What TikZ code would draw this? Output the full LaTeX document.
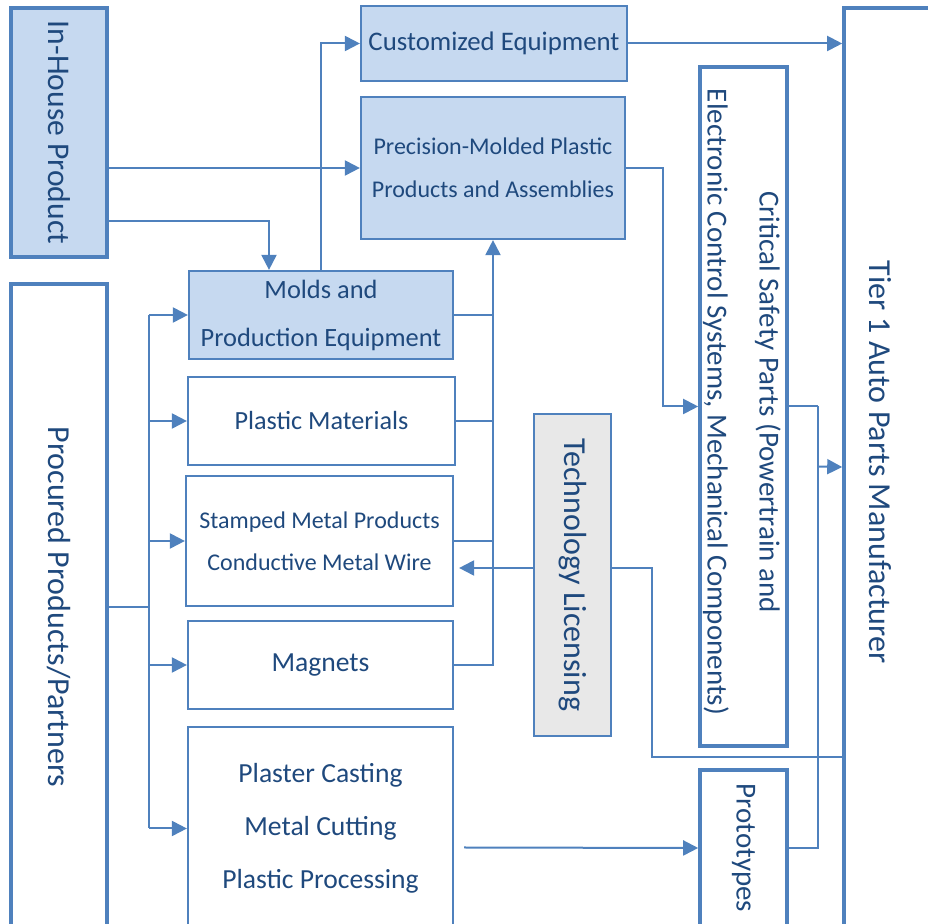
\documentclass[tikz,border=0pt]{standalone}
\usepackage{fontspec}
\setmainfont{Carlito}
\usetikzlibrary{arrows.meta,calc}

\definecolor{edgeblue}{HTML}{4F81BD}
\definecolor{boxblue}{HTML}{C6D9F0}
\definecolor{boxgray}{HTML}{E8E8E8}
\definecolor{textblue}{HTML}{1F497D}

\newcommand{\setfs}[2]{\fontsize{#1}{#2}\selectfont}

\begin{document}
\begin{tikzpicture}[x=0.5pt, y=-0.5pt,
        every node/.style={text=textblue},
        box/.style={draw=edgeblue, line width=1.1pt, inner sep=0pt, align=center},
        heavy/.style={box, line width=1.8pt},
        link/.style={draw=edgeblue, line width=1pt},
        >={Triangle[length=7.5pt,width=7.5pt]}]
        \useasboundingbox (0,0) rectangle (928,924);
        \clip (0,0) rectangle (928,924);

        % left column
        \node[heavy, fill=boxblue, minimum width=48pt, minimum height=124.5pt, font=\setfs{15.8}{19}] (inhouse) at (59,132.5) {\rotatebox{-90}{In-House Product}};
        \node[heavy, minimum width=48pt, minimum height=323pt, font=\setfs{16}{19}] (procured) at (59,607) {\rotatebox{-90}{Procured Products/Partners}};

        % middle column
        \node[box, fill=boxblue, minimum width=133pt, minimum height=37.5pt, font=\setfs{13.4}{16}] (custeq) at (494,43.5) {\raisebox{-2pt}{Customized Equipment}};
        \node[box, fill=boxblue, minimum width=132pt, minimum height=71pt, font=\setfs{12}{21.5}] (precision) at (493,168) {Precision-Molded Plastic\\Products and Assemblies};
        \node[box, fill=boxblue, minimum width=132pt, minimum height=44pt, font=\setfs{13.2}{24}] (molds) at (321,315) {Molds and\\Production Equipment};
        \node[box, minimum width=133.5pt, minimum height=44pt, font=\setfs{13.1}{16}] (plastic) at (321.5,421) {Plastic Materials};
        \node[box, minimum width=133.5pt, minimum height=65pt, font=\setfs{12}{21}] (stamped) at (319.5,541) {Stamped Metal Products\\Conductive Metal Wire};
        \node[box, minimum width=132.5pt, minimum height=44pt, font=\setfs{13.8}{16}] (magnets) at (320.5,665) {Magnets};
        \node[box, minimum width=132.5pt, minimum height=101.5pt, font=\setfs{13.8}{26.5}] (plaster) at (320.5,828.5) {Plaster Casting\\Metal Cutting\\Plastic Processing};
        \node[box, fill=boxgray, minimum width=38.5pt, minimum height=161pt, font=\setfs{16}{19}] (techlic) at (572.5,575) {\rotatebox{-90}{Technology Licensing}};

        % right column
        \node[heavy, minimum width=43.5pt, minimum height=339.5pt] (critical) at (743.5,406.5) {};
        \node[font=\setfs{14.5}{26}, align=center] (criticaltext) at (744,402) {\rotatebox{-90}{\begin{tabular}{@{}c@{}}Critical Safety Parts (Powertrain and\\Electronic Control Systems, Mechanical Components)\end{tabular}}};
        \node[heavy, minimum width=43.5pt, minimum height=78pt, font=\setfs{14.5}{17}] (proto) at (743.5,848) {\rotatebox{-90}{Prototypes}};
        \node[heavy, minimum width=48pt, minimum height=466pt] (tier1) at (892,474) {};
        \node[font=\setfs{16}{19}] (tier1text) at (880,462) {\rotatebox{-90}{Tier 1 Auto Parts Manufacturer}};

        % in-house flows
        \draw[link, ->] (inhouse.east |- precision.west) -- (precision.west);
        \draw[link, ->] ($(inhouse.east)+(0,88.5)$) -| ($(molds.north)+(-52,0)$);
        \draw[link, ->] (molds.north) |- (custeq.west);
        \draw[link, ->] (custeq.east) -- (custeq.east -| tier1.west);
        \draw[link, ->] (precision.east) -- ++(37,0) |- (critical.west);

        % parts into the molded products
        \foreach \n in {molds,plastic,stamped}
            \draw[link] (\n.east) -- (\n.east -| precision.south);
        \draw[link, ->] (magnets.east) -| (precision.south);

        % procured fan-out
        \draw[link] (procured.east) -- ++(40,0) coordinate (split);
        \draw[link] (split |- molds.west) -- (split |- plaster.west);
        \foreach \n in {molds,plastic,stamped,magnets,plaster}
            \draw[link, ->] (split |- \n.west) -- (\n.west);

        % licensing
        \draw[link, ->] ($(techlic.west)+(0,-7)$) -- ($(stamped.east)+(5,27)$);
        \draw[link] ($(techlic.east)+(0,-7)$) -- ++(40,0) |- ($(tier1.west)+(0,283)$);

        % to tier 1
        \draw[link] (critical.east) -- ++(29,0) coordinate (merge);
        \draw[link] (proto.east) -| (merge);
        \draw[link, ->] ($(merge)+(0,60)$) -- ($(tier1.west)+(0,-7)$);
        \draw[link, ->] ($(plaster.east)+(10,19)$) -- (proto.west);
    \end{tikzpicture}
\end{document}
